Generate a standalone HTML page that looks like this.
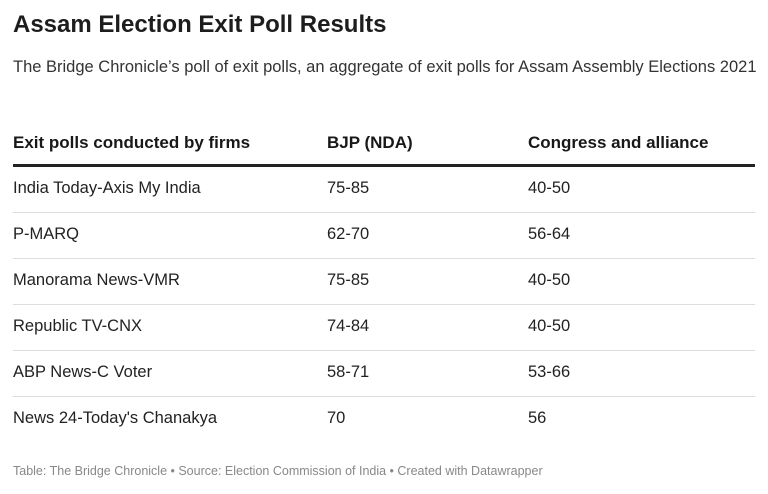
<!DOCTYPE html>
<html><head><meta charset="utf-8"><style>
body{margin:0;width:768px;height:494px;background:#fff;font-family:"Liberation Sans",sans-serif;color:#181818;position:relative;overflow:hidden}
.a{position:absolute;white-space:nowrap}
h1{position:absolute;left:13px;top:11px;margin:0;font-size:24px;font-weight:bold;color:#1d1d1d}
.sub{position:absolute;left:13px;top:56px;font-size:16.5px;line-height:22px;color:#333;width:750px}
.hd{font-weight:bold;font-size:17px;top:133px}
.line{position:absolute;left:13px;width:742px;height:1px;background:#ddd}
.cell{font-size:16.5px;color:#222}
.foot{left:13px;top:464px;font-size:12.5px;color:#888}
</style></head><body>
<h1>Assam Election Exit Poll Results</h1>
<div class="sub">The Bridge Chronicle’s poll of exit polls, an aggregate of exit polls for Assam Assembly Elections 2021</div>
<div class="a hd" style="left:13px">Exit polls conducted by firms</div>
<div class="a hd" style="left:327px">BJP (NDA)</div>
<div class="a hd" style="left:528px">Congress and alliance</div>
<div class="line" style="top:164px;height:3px;background:#222"></div>
<div id="rows"></div>
<div class="a foot">Table: The Bridge Chronicle • Source: Election Commission of India • Created with Datawrapper</div>
<script>
const firms=["India Today-Axis My India","P-MARQ","Manorama News-VMR","Republic TV-CNX","ABP News-C Voter","News 24-Today's Chanakya"];
const bjp=["75-85","62-70","75-85","74-84","58-71","70"];
const cong=["40-50","56-64","40-50","40-50","53-66","56"];
const root=document.getElementById('rows');
firms.forEach((f,i)=>{
  const y=179+i*46;
  [[f,13,'firm'],[bjp[i],327,'bjp'],[cong[i],528,'congress']].forEach(([t,x,n])=>{
    const d=document.createElement('div');
    d.className='a cell';d.style.left=x+'px';d.style.top=y+'px';d.textContent=t;
    
    
    root.appendChild(d);
  });
  if(i<firms.length-1){
    const l=document.createElement('div');l.className='line';l.style.top=(y+33)+'px';
    
    
    root.appendChild(l);
  }
});
</script>
</body></html>
